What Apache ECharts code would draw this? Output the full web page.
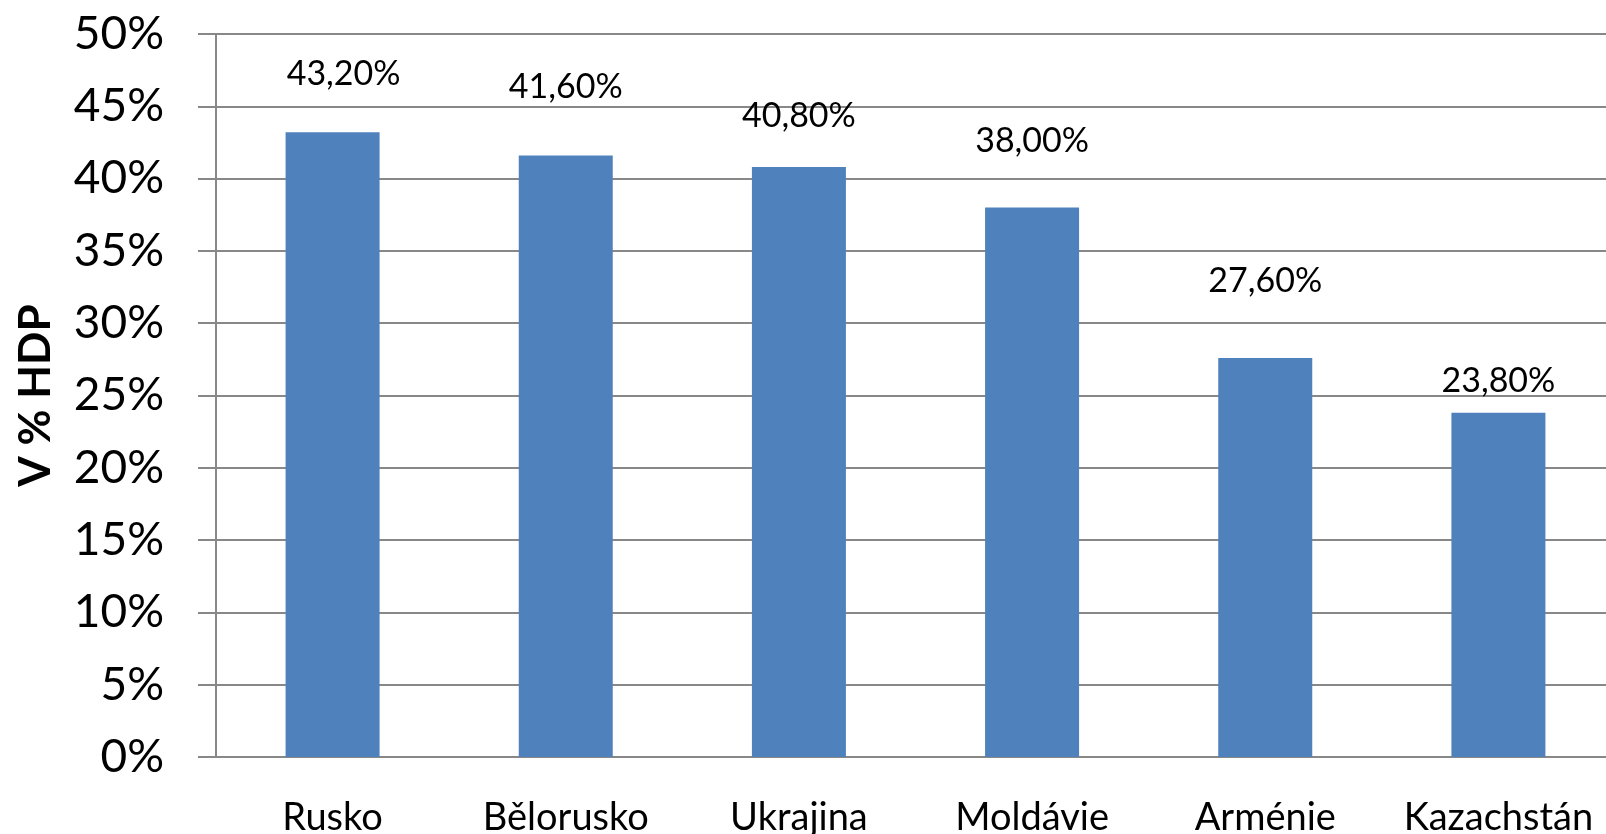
<!DOCTYPE html>
<html>

<head>
    <meta charset="UTF-8" />
    <title>V % HDP</title>
    <script src="https://cdn.jsdelivr.net/npm/echarts@6/dist/echarts.min.js"></script>
    <style>
        html, body { margin: 0; padding: 0; background: #fff; }
        #main { width: 1606px; height: 834px; }
    </style>
</head>

<body>
    <div id="main"></div>
    <script>
    // data
    var countries = ['Rusko', 'Bělorusko', 'Ukrajina', 'Moldávie', 'Arménie', 'Kazachstán'];
    var shares = [43.2, 41.6, 40.8, 38.0, 27.6, 23.8];
    var yTicks = [0, 5, 10, 15, 20, 25, 30, 35, 40, 45, 50];

    // label placement (the labels were nudged by hand in the original)
    var labelDx = [11, 0, 0, 0, 0, 0];
    var labelDy = [-58, -68, -51, -66, -77, -32];

    var font = 'Lato, "Open Sans", sans-serif';
    var gray = '#888888';

    var barData = [];
    for (var i = 0; i < shares.length; i++) {
        barData.push({
            value: shares[i],
            label: {
                position: [47 + labelDx[i], labelDy[i]]
            }
        });
    }

    var myChart = echarts.init(document.getElementById('main'));
    myChart.setOption({
        animation: false,
        grid: {
            left: 216,
            top: 34,
            width: 1399,
            height: 723,
            containLabel: false,
            outerBoundsMode: 'none'
        },
        xAxis: {
            type: 'category',
            data: countries,
            axisLine: { lineStyle: { color: gray, width: 2 } },
            axisTick: { length: 14, lineStyle: { color: gray, width: 2 } },
            axisLabel: {
                interval: 0,
                color: '#000',
                fontFamily: font,
                fontSize: 38,
                margin: 42
            }
        },
        yAxis: {
            type: 'value',
            min: yTicks[0],
            max: yTicks[yTicks.length - 1],
            interval: yTicks[1] - yTicks[0],
            name: 'V % HDP',
            nameLocation: 'middle',
            nameGap: 158,
            nameTextStyle: {
                color: '#000',
                fontFamily: font,
                fontSize: 44,
                fontWeight: 'bold'
            },
            axisLine: { show: true, lineStyle: { color: gray, width: 2 } },
            axisTick: { show: true, length: 18, lineStyle: { color: gray, width: 2 } },
            splitLine: { lineStyle: { color: gray, width: 2 } },
            axisLabel: {
                color: '#000',
                fontFamily: font,
                fontSize: 46,
                margin: 52,
                formatter: function(v) { return v + '%'; }
            }
        },
        series: [{
            type: 'bar',
            data: barData,
            barWidth: 94,
            itemStyle: { color: '#4F81BD' },
            label: {
                show: true,
                align: 'center',
                verticalAlign: 'middle',
                color: '#000',
                fontFamily: font,
                fontSize: 34,
                formatter: function(p) {
                    return p.value.toFixed(2).replace('.', ',') + '%';
                }
            }
        }]
    });
    </script>
</body>

</html>
